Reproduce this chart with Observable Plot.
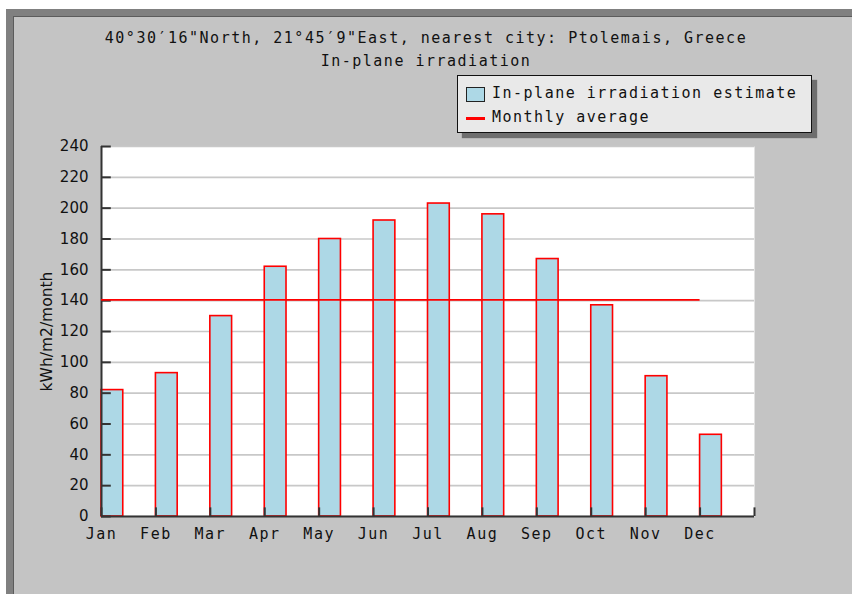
<!DOCTYPE html>
<html>
<head>
<meta charset="utf-8">
<script src="https://cdn.jsdelivr.net/npm/d3@7"></script>
<script src="https://cdn.jsdelivr.net/npm/@observablehq/plot@0.6"></script>
<style>
  html, body { margin: 0; padding: 0; background: #ffffff; }
  body { width: 852px; height: 594px; position: relative; overflow: hidden; }
  #page { position: absolute; left: 6px; top: 9px; width: 846px; height: 585px; box-sizing: border-box;
          background: #c4c4c4; border-left: 8px solid #808080; border-top: 8px solid #808080; }
  #page::before { content: ""; position: absolute; left: -1px; top: -1px; right: 0; bottom: 0;
          border-left: 1px solid #5c5c5c; border-top: 1px solid #5c5c5c; }
  #chart { position: absolute; left: 0; top: 0; z-index: 1; }
  .mono { font-family: "DejaVu Sans Mono", monospace; font-size: 15px; letter-spacing: 1.5px; color: #111; line-height: 15px; white-space: pre; }
  .title { position: absolute; left: 0; width: 852px; text-align: center; z-index: 2; }
  #legend { position: absolute; left: 457px; top: 75px; width: 355px; height: 58px; box-sizing: border-box;
            background: #e9e9e9; border: 1.5px solid #111; box-shadow: 5px 5px 1px #6e6e6e; z-index: 2; }
  .sw { position: absolute; box-sizing: border-box; }
  .lt { position: absolute; z-index: 3; }
  .chart g[aria-label="x-axis tick label"] text { letter-spacing: 1.5px; }
</style>
</head>
<body>
<div id="page"></div>
<div class="mono title" style="top:31px">40°30′16"North, 21°45′9"East, nearest city: Ptolemais, Greece</div>
<div class="mono title" style="top:54px">In-plane irradiation</div>
<div id="legend"></div>
<div class="sw" style="left:466px;top:87px;width:19px;height:15px;background:#add8e6;border:1.5px solid #222;z-index:3"></div>
<div class="sw" style="left:466px;top:117px;width:19px;height:3px;background:#ff0000;z-index:3"></div>
<div class="mono lt" style="left:492px;top:86px">In-plane irradiation estimate</div>
<div class="mono lt" style="left:492px;top:110px">Monthly average</div>
<div id="chart"></div>
<script>
const months = ["Jan","Feb","Mar","Apr","May","Jun","Jul","Aug","Sep","Oct","Nov","Dec"];
const values = [82, 93, 130, 162, 180, 192, 203, 196, 167, 137, 91, 53];
const yTicks = [0, 20, 40, 60, 80, 100, 120, 140, 160, 180, 200, 220, 240];
const yLabel = "kWh/m2/month";

const data = months.map((m, i) => ({i, month: m, value: values[i]}));
const avg = d3.mean(values);
const xTickPos = d3.range(months.length + 1);

const chart = Plot.plot({
  width: 852,
  height: 594,
  marginLeft: 101,
  marginRight: 98,
  marginTop: 146,
  marginBottom: 78,
  className: "chart",
  style: {background: "transparent", color: "#111", overflow: "visible"},
  x: {domain: [0, months.length]},
  y: {domain: [0, 240]},
  marks: [
    Plot.frame({fill: "white", stroke: "none"}),
    Plot.gridY(yTicks, {stroke: "#c8c8c8", strokeOpacity: 1, strokeWidth: 1.6}),
    Plot.rect(data, {x1: "i", x2: d => d.i + 0.4, y1: 0, y2: "value", fill: "#add8e6", stroke: "#ff0000", strokeWidth: 1.6}),
    Plot.ruleX([0], {stroke: "#333", strokeWidth: 2}),
    Plot.ruleY([0], {stroke: "#333", strokeWidth: 2}),
    Plot.ruleY(yTicks, {x1: 0, x2: 0.18, stroke: "#333", strokeWidth: 2}),
    Plot.ruleX(xTickPos, {y1: 0, y2: 5.6, stroke: "#333", strokeWidth: 2}),
    Plot.ruleY([avg], {x1: 0, x2: months.length - 1, stroke: "#ff0000", strokeWidth: 1.6}),
    Plot.axisY(yTicks, {anchor: "left", tickSize: 0, tickPadding: 13, fontSize: 15, fontFamily: "DejaVu Sans", label: null}),
    Plot.axisX(d3.range(months.length), {anchor: "bottom", tickSize: 0, tickPadding: 12, fontSize: 15, fontFamily: "DejaVu Sans Mono", tickFormat: i => months[i], label: null}),
    Plot.text([yLabel], {frameAnchor: "left", dx: -54, rotate: -90, textAnchor: "middle", fontSize: 15.5, fontFamily: "DejaVu Sans", fill: "#111"})
  ]
});
document.getElementById("chart").appendChild(chart);
</script>
</body>
</html>
